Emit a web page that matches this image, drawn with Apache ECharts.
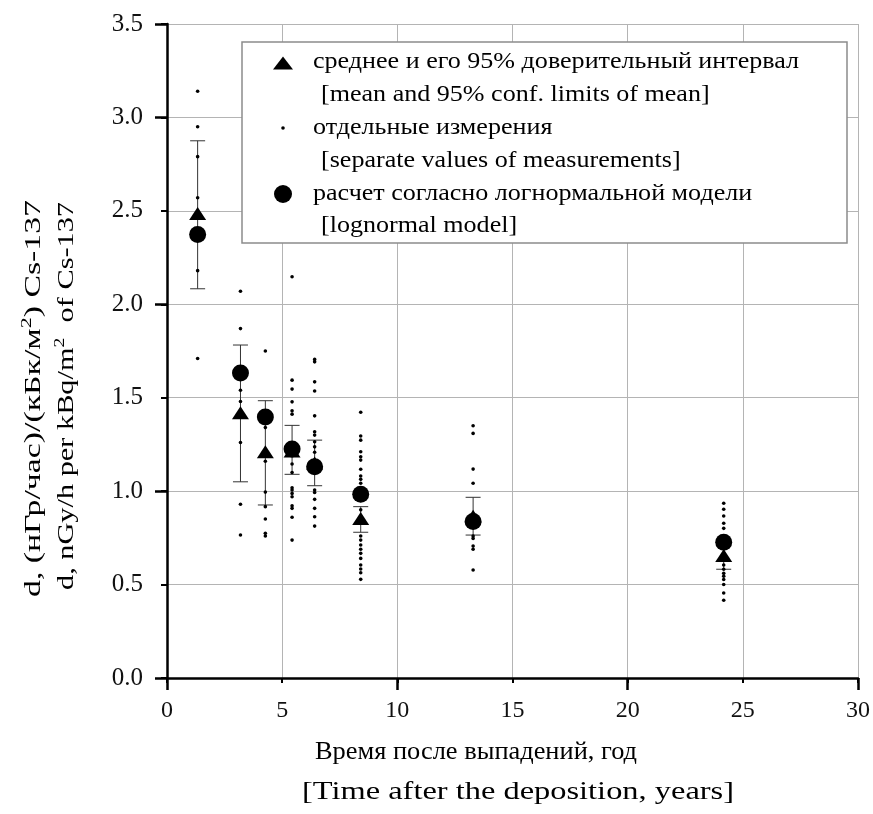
<!DOCTYPE html>
<html>
<head>
<meta charset="utf-8">
<script src="https://cdn.jsdelivr.net/npm/echarts@6/dist/echarts.min.js"></script>
<style>
  html, body { margin: 0; padding: 0; background: #fff; }
  #chart { width: 873px; height: 814px; }
</style>
</head>
<body>
<div id="chart"></div>
<script>
// Years after deposition for each survey group
const years = [1.33, 3.19, 4.27, 5.43, 6.41, 8.41, 13.29, 24.17];
// Mean dose-rate coefficient and its 95% confidence limits
const meanVals = [2.486, 1.419, 1.211, 1.215, 1.150, 0.854, 0.866, 0.655];
const ciLow    = [2.083, 1.050, 0.926, 1.090, 1.029, 0.780, 0.765, 0.582];
const ciHigh   = [2.875, 1.782, 1.484, 1.352, 1.273, 0.917, 0.967, 0.728];
// Lognormal model estimate
const modelVals = [2.374, 1.632, 1.397, 1.225, 1.131, 0.983, 0.838, 0.726];
// Separate measurements, one list per survey group
const separateValues = [
  [3.14, 2.95, 2.79, 2.57, 2.18, 1.71],
  [2.07, 1.87, 1.54, 1.48, 1.26, 0.93, 0.765],
  [1.75, 1.34, 1.16, 0.995, 0.917, 0.851, 0.774, 0.760],
  [2.147, 1.594, 1.546, 1.478, 1.430, 1.412, 1.204, 1.145, 1.100, 1.018, 1.006, 0.988, 0.970, 0.922, 0.908, 0.860, 0.738],
  [1.705, 1.692, 1.585, 1.536, 1.403, 1.318, 1.300, 1.264, 1.237, 1.208, 1.006, 0.993, 0.956, 0.908, 0.863, 0.813],
  [1.422, 1.295, 1.273, 1.211, 1.184, 1.166, 1.117, 1.081, 1.063, 1.042, 0.950, 0.900, 0.760, 0.738, 0.712, 0.689, 0.667, 0.640, 0.605, 0.583, 0.563, 0.528],
  [1.350, 1.309, 1.118, 1.042, 0.760, 0.747, 0.706, 0.689, 0.578],
  [0.935, 0.903, 0.867, 0.828, 0.801, 0.605, 0.582, 0.560, 0.545, 0.527, 0.500, 0.455, 0.416]
];
// Axis ranges
const xMin = 0, xMax = 30, xStep = 5;
const yMin = 0, yMax = 3.5, yStep = 0.5;

// Legend and axis titles
const legendRows = [
  'среднее и его 95% доверительный интервал',
  '[mean and 95% conf. limits of mean]',
  'отдельные измерения',
  '[separate values of measurements]',
  'расчет согласно логнормальной модели',
  '[lognormal model]'
];
const xTitle = ['Время после выпадений, год', '[Time after the deposition, years]'];
const yTitle = [
  ['d, (нГр/час)/(кБк/м', '2', ') Cs-137'],
  ['d, nGy/h per kBq/m', '2', '  of Cs-137']
];

const SERIF = '"Liberation Serif", "DejaVu Serif", serif';
const TXT = '#000';

// Text width helper, used to stretch titles to a given length
const measureCtx = document.createElement('canvas').getContext('2d');
function textWidth(str, size) {
  measureCtx.font = size + 'px ' + SERIF;
  return measureCtx.measureText(str).width;
}

const meanData = years.map((x, i) => [x, meanVals[i]]);
const ciData = years.map((x, i) => [x, ciLow[i], ciHigh[i]]);
const modelData = years.map((x, i) => [x, modelVals[i]]);
const pointData = [];
separateValues.forEach((arr, i) => arr.forEach(v => pointData.push([years[i], v])));

const chart = echarts.init(document.getElementById('chart'), null, { renderer: 'canvas' });

const grid = { left: 167, top: 24, right: 13, bottom: 136, containLabel: false };

function textEl(x, y, text, size, opt) {
  return Object.assign({
    type: 'text', x: x, y: y, z: 100,
    style: {
      text: text, fill: TXT, font: size + 'px ' + SERIF,
      align: 'left', verticalAlign: 'middle'
    }
  }, opt || {});
}

// Legend box
const legendX = 242, legendY = 42, legendW = 605, legendH = 201;
const rowBase = [70, 103, 136, 169, 201.5, 234];
const legendFont = 24;
const legendStretch = 486 / textWidth(legendRows[0], legendFont);

const graphics = [
  {
    type: 'rect', z: 90,
    shape: { x: legendX, y: legendY, width: legendW, height: legendH },
    style: { fill: '#fff', stroke: '#8c8c8c', lineWidth: 1.5 }
  },
  {
    type: 'polygon', z: 100,
    shape: { points: [[283, 56.5], [293, 69.5], [273, 69.5]] },
    style: { fill: '#000' }
  },
  { type: 'circle', z: 100, shape: { cx: 283, cy: 128, r: 1.8 }, style: { fill: '#000' } },
  { type: 'circle', z: 100, shape: { cx: 283, cy: 194, r: 9 }, style: { fill: '#000' } }
];
legendRows.forEach((t, i) => {
  const x = (i % 2 === 0) ? 313 : 321;
  graphics.push(textEl(x, rowBase[i] - 8, t, legendFont, { scaleX: legendStretch }));
});

// X axis title, two lines centred and stretched to their spans
const xTitleFont = 25;
[[xTitle[0], 476, 752, 322], [xTitle[1], 518, 792, 432]].forEach(([t, cx, cy, len]) => {
  const el = textEl(cx, cy, t, xTitleFont, { scaleX: len / textWidth(t, xTitleFont) });
  el.style.align = 'center';
  graphics.push(el);
});

// Y axis title, two rotated lines with superscript 2
const yTitleFont = 23, supFont = 15;
[[yTitle[0], 34, 398.5, 397], [yTitle[1], 67, 396, 388]].forEach(([parts, cx, cy, len]) => {
  const w = textWidth(parts[0], yTitleFont) + textWidth(parts[1], supFont) + textWidth(parts[2], yTitleFont);
  graphics.push({
    type: 'text', x: cx, y: cy, rotation: Math.PI / 2, scaleX: len / w, z: 100,
    style: {
      text: '{n|' + parts[0] + '}{s|' + parts[1] + '}{n|' + parts[2] + '}',
      align: 'center', verticalAlign: 'middle',
      rich: {
        n: { fontFamily: SERIF, fontSize: yTitleFont, lineHeight: 28, fill: TXT },
        s: { fontFamily: SERIF, fontSize: supFont, lineHeight: 15, verticalAlign: 'top', fill: TXT }
      }
    }
  });
});

const option = {
  animation: false,
  backgroundColor: '#fff',
  grid: grid,
  xAxis: [
    {
      type: 'value', min: xMin, max: xMax, interval: xStep, position: 'bottom',
      axisLine: { show: true, onZero: false, lineStyle: { color: '#000', width: 2.5 } },
      axisTick: { show: true, length: 5, lineStyle: { color: '#000', width: 2 } },
      axisLabel: { fontSize: 24, fontFamily: SERIF, color: '#111', margin: 21 },
      splitLine: { show: true, lineStyle: { color: '#b4b4b4', width: 1 } }
    },
    {
      type: 'value', min: xMin, max: xMax, interval: xStep * 2, position: 'bottom',
      axisLine: { show: false },
      axisTick: { show: true, length: 12, lineStyle: { color: '#000', width: 2.5 } },
      axisLabel: { show: false },
      splitLine: { show: false }
    }
  ],
  yAxis: [
    {
      type: 'value', min: yMin, max: yMax, interval: yStep, position: 'left',
      axisLine: { show: true, onZero: false, lineStyle: { color: '#000', width: 2.5 } },
      axisTick: { show: true, length: 6, lineStyle: { color: '#000', width: 2 } },
      axisLabel: { fontSize: 25, fontFamily: SERIF, color: '#111', margin: 24,
                   formatter: v => v.toFixed(1) },
      splitLine: { show: true, lineStyle: { color: '#b4b4b4', width: 1 } }
    },
    {
      type: 'value', min: yMin, max: yMax, interval: yStep * 2, position: 'left',
      axisLine: { show: false },
      axisTick: { show: true, length: 12, lineStyle: { color: '#000', width: 2.5 } },
      axisLabel: { show: false },
      splitLine: { show: false }
    }
  ],
  series: [
    {
      name: 'ci', type: 'custom', xAxisIndex: 0, yAxisIndex: 0, z: 2,
      data: ciData,
      renderItem: function (params, api) {
        const x = api.value(0);
        const lo = api.coord([x, api.value(1)]);
        const hi = api.coord([x, api.value(2)]);
        const hw = 7.5;
        const st = { stroke: '#333', lineWidth: 1 };
        return {
          type: 'group',
          children: [
            { type: 'line', shape: { x1: lo[0], y1: lo[1], x2: hi[0], y2: hi[1] }, style: st },
            { type: 'line', shape: { x1: lo[0] - hw, y1: lo[1], x2: lo[0] + hw, y2: lo[1] }, style: st },
            { type: 'line', shape: { x1: hi[0] - hw, y1: hi[1], x2: hi[0] + hw, y2: hi[1] }, style: st }
          ]
        };
      }
    },
    {
      name: 'points', type: 'scatter', z: 3, data: pointData,
      symbol: 'circle', symbolSize: 3.6,
      itemStyle: { color: '#000', opacity: 1 }
    },
    {
      name: 'mean', type: 'scatter', z: 4, data: meanData,
      symbol: 'triangle', symbolSize: [17, 13],
      itemStyle: { color: '#000', opacity: 1 }
    },
    {
      name: 'model', type: 'scatter', z: 5, data: modelData,
      symbol: 'circle', symbolSize: 17,
      itemStyle: { color: '#000', opacity: 1 }
    }
  ],
  graphic: graphics
};

chart.setOption(option);
</script>
</body>
</html>
